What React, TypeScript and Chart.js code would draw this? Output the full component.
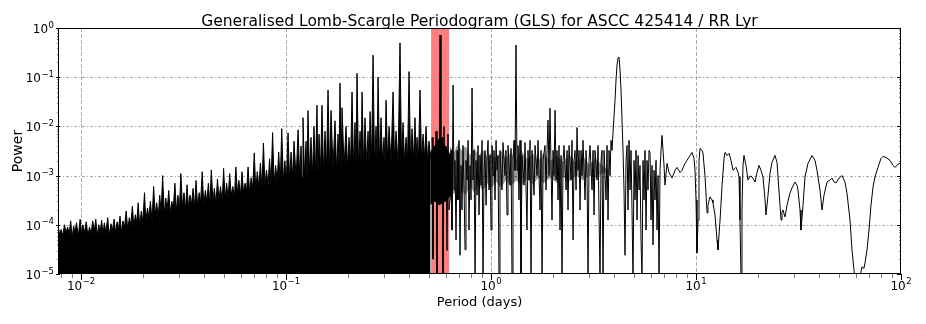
import React, { useEffect, useRef } from "react";
import { Chart, registerables } from "chart.js";

Chart.register(...registerables);

const TITLE = "Generalised Lomb-Scargle Periodogram (GLS) for ASCC 425414 / RR Lyr";
const X_LABEL = "Period (days)";
const Y_LABEL = "Power";
const X_MIN = 0.00772;
const X_MAX = 100;
const Y_MIN = 1e-5;
const Y_MAX = 1;
const X_TICKS = [0.01, 0.1, 1, 10, 100];
const X_TICK_EXP = ["\u22122", "\u22121", "0", "1", "2"];
const Y_TICKS = [1e-5, 1e-4, 1e-3, 1e-2, 1e-1, 1];
const Y_TICK_EXP = ["\u22125", "\u22124", "\u22123", "\u22122", "\u22121", "0"];
const BAND = [0.51, 0.624];

// short periods 0.0077 - 0.05 d (peak, trough alternating)
const shortPeriod = [
  0.0077, 0.00785, 0.008, 0.00815, 0.0083, 0.00845, 0.0086, 0.00875, 0.0089, 0.00905,
  0.0092, 0.00935, 0.0095, 0.0097, 0.0099, 0.01005, 0.0102, 0.0104, 0.0106, 0.0108,
  0.011, 0.0112, 0.0114, 0.0116, 0.0118, 0.012, 0.0122, 0.0124, 0.0126, 0.0128,
  0.013, 0.0132, 0.0135, 0.0137, 0.014, 0.0142, 0.0145, 0.0147, 0.015, 0.0152,
  0.0155, 0.0157, 0.016, 0.0163, 0.0166, 0.0169, 0.0172, 0.0175, 0.0178, 0.0181,
  0.0184, 0.0187, 0.019, 0.0193, 0.0197, 0.02, 0.0204, 0.0207, 0.0211, 0.0214,
  0.0218, 0.0222, 0.0226, 0.023, 0.0234, 0.0238, 0.0242, 0.0246, 0.025, 0.0255,
  0.0259, 0.0263, 0.0268, 0.0272, 0.0277, 0.0282, 0.0287, 0.0292, 0.0297, 0.0302,
  0.0307, 0.0312, 0.0318, 0.0323, 0.0329, 0.0334, 0.034, 0.0346, 0.0352, 0.0358,
  0.0364, 0.037, 0.0377, 0.0383, 0.039, 0.0397, 0.0404, 0.0411, 0.0418, 0.0425,
  0.0432, 0.044, 0.0447, 0.0455, 0.0463, 0.0471, 0.0479, 0.0488, 0.0496, 0.0505,
];
const shortPower = [
  1.1e-4, 6.5e-5, 8e-5, 6e-5, 1.0e-4, 7e-5, 9e-5, 6.5e-5, 1.2e-4, 5.5e-5,
  9.5e-5, 7e-5, 1.1e-4, 6e-5, 1.3e-4, 6.5e-5, 1.0e-4, 7e-5, 1.15e-4, 6e-5,
  9e-5, 6.5e-5, 1.2e-4, 7.5e-5, 1.3e-4, 6e-5, 1.0e-4, 7e-5, 1.25e-4, 6.5e-5,
  1.1e-4, 7e-5, 1.4e-4, 6e-5, 1.05e-4, 7.5e-5, 1.3e-4, 7e-5, 1.15e-4, 8e-5,
  1.5e-4, 7e-5, 1.2e-4, 9e-5, 1.9e-4, 8e-5, 1.4e-4, 1e-4, 2.4e-4, 9e-5,
  1.6e-4, 1.1e-4, 2.8e-4, 1e-4, 1.9e-4, 1.1e-4, 4.5e-4, 1.2e-4, 2.2e-4, 1.4e-4,
  3e-4, 1.2e-4, 6e-4, 1.6e-4, 2.8e-4, 1.4e-4, 4e-4, 1.8e-4, 1e-3, 1.6e-4,
  3.5e-4, 2e-4, 5e-4, 1.7e-4, 3e-4, 2.2e-4, 7e-4, 1.9e-4, 4e-4, 2.1e-4,
  1.1e-3, 2.4e-4, 4.5e-4, 2e-4, 6.5e-4, 2.3e-4, 4e-4, 2.6e-4, 5.5e-4, 2.2e-4,
  8e-4, 2.5e-4, 4.5e-4, 2.8e-4, 1.2e-3, 2.4e-4, 5e-4, 2.9e-4, 7e-4, 2.6e-4,
  1.3e-3, 3e-4, 5.5e-4, 2.7e-4, 8.5e-4, 3.2e-4, 6e-4, 2.9e-4, 1.4e-3, 3.3e-4,
];

// 0.05 - 0.1 d
const lowPeriod = [
  0.0513, 0.0522, 0.0531, 0.054, 0.055, 0.056, 0.0569, 0.0579, 0.0589, 0.06,
  0.061, 0.062, 0.0631, 0.0642, 0.0653, 0.0664, 0.0676, 0.0688, 0.07, 0.0712,
  0.0724, 0.0737, 0.075, 0.0763, 0.0776, 0.0789, 0.0803, 0.0817, 0.0831, 0.0845,
  0.086, 0.0875, 0.089, 0.0905, 0.0921, 0.0937, 0.0953, 0.097, 0.0987, 0.1004,
];
const lowPower = [
  7e-4, 3.5e-4, 1.1e-3, 4e-4, 6e-4, 3.5e-4, 1.5e-3, 4.5e-4, 8e-4, 4e-4,
  1.2e-3, 4.5e-4, 7e-4, 5e-4, 1.5e-3, 4.5e-4, 9e-4, 5.5e-4, 2.9e-3, 5e-4,
  1.2e-3, 6e-4, 1.8e-3, 5.5e-4, 4.6e-3, 6.5e-4, 1.3e-3, 6e-4, 2.2e-3, 7e-4,
  7.5e-3, 6.5e-4, 1.6e-3, 7.5e-4, 3e-3, 7e-4, 9e-3, 8e-4, 2e-3, 8e-4,
];

// 0.1 - 0.51 d
const midPeriod = [
  0.1023, 0.104, 0.1058, 0.1076, 0.1094, 0.112, 0.1145, 0.1165, 0.1184, 0.1197,
  0.121, 0.123, 0.1252, 0.1266, 0.128, 0.13, 0.1324, 0.1346, 0.1369, 0.1392,
  0.1416, 0.1432, 0.1449, 0.1473, 0.1498, 0.1524, 0.155, 0.1576, 0.1603, 0.163,
  0.1658, 0.1695, 0.1734, 0.1764, 0.1794, 0.1814, 0.1834, 0.1855, 0.1876, 0.192,
  0.1962, 0.1996, 0.203, 0.2064, 0.2099, 0.2135, 0.2171, 0.2195, 0.222, 0.2258,
  0.2297, 0.2323, 0.2349, 0.2389, 0.2429, 0.247, 0.2513, 0.2541, 0.257, 0.2614,
  0.2658, 0.2703, 0.2749, 0.278, 0.2811, 0.2859, 0.2908, 0.2957, 0.3007, 0.304,
  0.3075, 0.3128, 0.3181, 0.3254, 0.3327, 0.3384, 0.3441, 0.352, 0.3598, 0.366,
  0.3722, 0.3785, 0.385, 0.3916, 0.3982, 0.405, 0.4118, 0.4188, 0.4259, 0.4307,
  0.4356, 0.443, 0.4505, 0.4582, 0.466, 0.474, 0.482, 0.49, 0.4985, 0.507,
];
const midPower = [
  7.4e-3, 8e-4, 3e-3, 9e-4, 5e-3, 8.5e-4, 8.5e-3, 1e-3, 4e-3, 9e-4,
  1.5e-2, 1e-3, 5e-3, 9e-4, 2.1e-2, 1.1e-3, 6e-3, 1e-3, 1e-2, 1.1e-3,
  2.7e-2, 1e-3, 7e-3, 1.2e-3, 2.7e-2, 1.1e-3, 8e-3, 1.3e-3, 5.5e-2, 1.2e-3,
  2.1e-2, 1.4e-3, 1.3e-2, 1.2e-3, 7e-3, 1.5e-3, 7.6e-2, 1.3e-3, 2.4e-2, 1.5e-3,
  1e-2, 1.4e-3, 6e-3, 1.6e-3, 5e-2, 1.4e-3, 1.2e-2, 1.7e-3, 1.2e-1, 1.5e-3,
  8e-3, 1.7e-3, 5e-2, 1.5e-3, 1.5e-2, 1.8e-3, 8e-3, 1.6e-3, 2e-2, 1.8e-3,
  2.8e-1, 1.6e-3, 1e-2, 1.9e-3, 1e-1, 1.7e-3, 1.5e-2, 1.9e-3, 6e-3, 1.7e-3,
  3.4e-2, 2e-3, 1e-2, 1.8e-3, 5e-2, 2e-3, 8e-3, 1.8e-3, 5e-1, 2e-3,
  1.2e-2, 1.9e-3, 6e-3, 2.1e-3, 1.3e-1, 1.9e-3, 9e-3, 2.1e-3, 1.5e-2, 2e-3,
  6e-3, 2.2e-3, 5.5e-2, 2e-3, 7e-3, 2.2e-3, 1e-2, 2e-3, 5e-3, 2.2e-3,
];

// inside the highlighted band 0.51 - 0.62 d
const bandPeriod = [0.5156, 0.521, 0.5273, 0.533, 0.5393, 0.545, 0.5515, 0.558, 0.564, 0.57, 0.5768, 0.583, 0.5899, 0.597, 0.6033, 0.61, 0.617, 0.624];
const bandPower = [6e-3, 2e-5, 4e-3, 3e-4, 8e-3, 8e-6, 5e-3, 4e-4, 7.2e-1, 5e-4, 6e-3, 6e-6, 1e-2, 3e-4, 4e-3, 3e-5, 7e-3, 2e-4];
const bandCorePeriod = [0.505, 0.53, 0.56, 0.6, 0.64];
const bandCoreTop = [3e-3, 4e-3, 6e-3, 4e-3, 2.5e-3];
const bandCoreFloor = [2.5e-4, 3e-4, 2.5e-4, 3e-4, 4e-4];

// 0.63 - 7 d
const longPeriod = [
  0.631, 0.638, 0.645, 0.653, 0.66, 0.667, 0.675, 0.683, 0.69, 0.698,
  0.706, 0.714, 0.722, 0.73, 0.739, 0.747, 0.755, 0.764, 0.773, 0.781,
  0.79, 0.799, 0.808, 0.817, 0.826, 0.836, 0.845, 0.855, 0.864, 0.874,
  0.884, 0.894, 0.904, 0.914, 0.925, 0.935, 0.946, 0.956, 0.967, 0.978,
  0.989, 1.0, 1.011, 1.023, 1.034, 1.046, 1.058, 1.07, 1.082, 1.094,
  1.106, 1.131, 1.144, 1.17, 1.183, 1.197, 1.21, 1.238, 1.252, 1.266,
  1.28, 1.295, 1.309, 1.324, 1.339, 1.354, 1.369, 1.385, 1.4, 1.416,
  1.449, 1.465, 1.498, 1.515, 1.533, 1.55, 1.567, 1.585, 1.621, 1.64,
  1.677, 1.696, 1.734, 1.754, 1.774, 1.794, 1.834, 1.855, 1.876, 1.897,
  1.919, 1.94, 1.962, 1.984, 2.007, 2.03, 2.053, 2.076, 2.099, 2.123,
  2.147, 2.171, 2.196, 2.22, 2.246, 2.271, 2.323, 2.349, 2.375, 2.402,
  2.457, 2.484, 2.513, 2.541, 2.57, 2.599, 2.628, 2.658, 2.688, 2.718,
  2.749, 2.78, 2.811, 2.875, 2.908, 2.941, 2.974, 3.007, 3.041, 3.11,
  3.146, 3.181, 3.217, 3.29, 3.327, 3.402, 3.441, 3.479, 3.519, 3.559,
  3.64, 3.681, 3.722, 3.764, 3.807, 3.85, 3.893, 3.937, 4.027, 4.072,
  4.118, 4.165, 4.212, 4.259, 4.307, 4.356, 4.405, 4.455, 4.505, 4.556,
  4.608, 4.66, 4.712, 4.766, 4.82, 4.874, 4.929, 4.985, 5.041, 5.098,
  5.156, 5.214, 5.273, 5.332, 5.392, 5.453, 5.515, 5.577, 5.64, 5.704,
  5.768, 5.833, 5.899, 5.966, 6.033, 6.101, 6.17, 6.24, 6.311, 6.382,
  6.454, 6.527, 6.601, 6.675, 6.751, 6.827, 6.904, 6.982, 7.061,
];
const longPower = [
  3.2e-4, 3.25e-3, 7.8e-5, 6.9e-2, 5.1e-4, 2.04e-3, 4.9e-5, 3.25e-3, 3.2e-4, 5.2e-3,
  2.4e-5, 1.61e-3, 2e-4, 4.1e-3, 5.1e-4, 3.1e-5, 2.04e-3, 8.1e-4, 5.2e-3, 7.8e-5,
  1.61e-3, 3.2e-4, 6e-2, 8.1e-4, 3.25e-3, 7.8e-6, 2.04e-3, 4e-4, 4.1e-3, 1.58e-4,
  2.57e-3, 6.4e-4, 5.2e-3, 7.8e-6, 1.28e-3, 3.25e-3, 2.5e-4, 2.04e-3, 5.2e-3, 5.1e-4,
  2.57e-3, 7.8e-5, 4.1e-3, 1e-3, 3.25e-3, 3.2e-4, 5.2e-3, 1.28e-3, 2.57e-3, 7.8e-6,
  3.25e-3, 5.1e-4, 4.7e-3, 1e-3, 3.25e-3, 1.58e-4, 4.1e-3, 6.4e-4, 3.57e-3, 7.8e-6,
  2.04e-3, 5.2e-3, 1.28e-3, 0.45, 1.28e-3, 4.1e-3, 3.2e-4, 5.2e-3, 7.8e-6, 2.57e-3,
  6.4e-4, 4.7e-3, 7.8e-5, 3.25e-3, 8.1e-4, 5.2e-3, 7.8e-6, 3.25e-3, 4e-4, 4.1e-3,
  1e-3, 5.2e-3, 2e-4, 3.25e-3, 7.8e-6, 2.04e-3, 4.1e-3, 5.1e-4, 3.25e-3, 1.34e-2,
  1e-3, 2.34e-2, 1.61e-3, 1.25e-4, 3.25e-3, 1e-3, 2.13e-2, 8.1e-4, 3.25e-3, 3.2e-4,
  4.1e-3, 7.8e-5, 2.57e-3, 7.8e-6, 2.04e-3, 4.1e-3, 5.1e-4, 3.25e-3, 2e-4, 4.1e-3,
  8.1e-4, 5.2e-3, 4.9e-5, 2.04e-3, 3.25e-3, 5.1e-4, 9.5e-3, 1.28e-3, 3.25e-3, 2e-4,
  3.25e-3, 1e-3, 5.2e-3, 3.2e-4, 3.25e-3, 1e-3, 7.8e-6, 2.04e-3, 4.1e-3, 5.1e-4,
  3.25e-3, 1.58e-4, 3.25e-3, 8.1e-4, 4.1e-3, 7.8e-6, 2.04e-3, 3.25e-3, 7.8e-6, 3.25e-3,
  3.2e-4, 4.1e-3, 1.25e-4, 3.25e-3, 1e-3, 5.2e-3, 3.25e-3, 7.55e-3, 3.41e-2, 8.7e-2,
  0.177, 0.246, 0.257, 0.14, 5.44e-2, 1.34e-2, 3.25e-3, 5.1e-4, 2.4e-5, 2.04e-3,
  4.1e-3, 2e-4, 5.2e-3, 5.1e-4, 3.25e-3, 2e-4, 7.8e-6, 2.04e-3, 3.2e-4, 3.25e-3,
  1.25e-4, 2.57e-3, 5.1e-4, 1.61e-3, 4.9e-5, 7.8e-6, 2.04e-3, 3.2e-4, 3.25e-3, 7.8e-5,
  2.04e-3, 5.1e-4, 3.25e-3, 2.96e-3, 1.25e-4, 1.61e-3, 3.9e-5, 1.28e-3, 3.2e-4, 2.04e-3,
  7.8e-5, 1e-3, 7.8e-6, 1.28e-3, 3.25e-3, 6.56e-3, 3.25e-3, 1.61e-3, 6.4e-4,
];
// dense overlapping mesh of the trace between 0.63 and 3.8 d (ragged upper and lower edge)
const meshPeriod = [0.63, 0.66, 0.69, 0.72, 0.75, 0.79, 0.83, 0.87, 0.91, 0.96, 1.0, 1.06, 1.12, 1.18, 1.25, 1.33, 1.4, 1.5, 1.6, 1.7, 1.8, 1.95, 2.1, 2.25, 2.4, 2.6, 2.8, 3.0, 3.25, 3.5, 3.8];
const meshTop = [4e-3, 3e-3, 4.5e-3, 3.2e-3, 4e-3, 2.6e-3, 3.6e-3, 2.5e-3, 3.4e-3, 2.4e-3, 3e-3, 2.2e-3, 3.2e-3, 2.3e-3, 3e-3, 2.1e-3, 3.3e-3, 2.2e-3, 2.8e-3, 2e-3, 2.9e-3, 2e-3, 2.6e-3, 1.9e-3, 2.7e-3, 1.8e-3, 2.5e-3, 1.7e-3, 2.2e-3, 1.6e-3, 1.2e-3];
const meshFloor = [3e-4, 4.5e-4, 3.5e-4, 5e-4, 4e-4, 6e-4, 4.5e-4, 6.5e-4, 5e-4, 7e-4, 5.5e-4, 7.5e-4, 5.5e-4, 8e-4, 6e-4, 8e-4, 6e-4, 8.5e-4, 6.5e-4, 9e-4, 7e-4, 9e-4, 7e-4, 9.5e-4, 7.5e-4, 1e-3, 8e-4, 1e-3, 9e-4, 1.1e-3, 1.2e-3];

// 7 - 100 d
const tailPeriod = [
  7.221, 7.386, 7.639, 7.901, 8.08, 8.356, 8.546, 8.839, 9.04, 9.35,
  9.562, 9.78, 9.89, 10.0, 10.11, 10.23, 10.34, 10.46, 10.7, 10.82,
  11.06, 11.32, 11.44, 11.7, 11.97, 12.1, 12.38, 12.66, 12.8, 12.95,
  13.1, 13.4, 13.7, 13.86, 14.17, 14.49, 14.82, 15.16, 15.5, 15.68,
  16.03, 16.21, 16.39, 16.58, 16.76, 16.95, 17.14, 17.53, 17.93, 18.34,
  18.76, 19.18, 19.4, 19.84, 20.29, 20.75, 21.22, 21.71, 21.95, 22.45,
  22.96, 23.48, 24.29, 24.84, 25.12, 25.69, 25.98, 26.27, 26.57, 26.87,
  27.18, 27.79, 28.74, 29.39, 30.4, 31.09, 31.44, 32.16, 32.52, 33.26,
  34.02, 35.18, 36.8, 38.06, 38.92, 40.26, 41.17, 42.11, 43.56, 45.05,
  46.07, 47.12, 48.19, 49.84, 51.55, 53.31, 54.52, 56.39, 57.67, 58.98,
  60.32, 61.69, 63.1, 64.53, 65.99, 66.75, 68.26, 69.81, 71.4, 73.02,
  74.68, 77.24, 79.89, 81.7, 84.51, 88.38, 91.41, 93.48, 96.69, 100,
];
const tailPower = [
  1.77e-3, 1.16e-3, 8.9e-4, 1.28e-3, 1.47e-3, 1.16e-3, 1.28e-3, 1.77e-3, 2.04e-3, 2.57e-3,
  2.96e-3, 2.24e-3, 1.28e-3, 3.2e-4, 2.7e-5, 1.25e-4, 2.04e-3, 3.57e-3, 3.25e-3, 2.82e-3,
  1e-3, 1.75e-4, 2.5e-4, 3.7e-4, 3.2e-4, 2.8e-4, 1.58e-4, 4.9e-5, 3.1e-5, 6.2e-5,
  1.25e-4, 6.4e-4, 2.24e-3, 2.96e-3, 2.57e-3, 2.82e-3, 2.04e-3, 1.28e-3, 1.4e-3, 1.47e-3,
  1.16e-3, 9.4e-4, 1.25e-4, 7.8e-6, 2e-4, 1.61e-3, 2.57e-3, 1.61e-3, 8.1e-4, 9.8e-4,
  9.4e-4, 8.1e-4, 7.4e-4, 1.16e-3, 1.61e-3, 1.28e-3, 9.4e-4, 3.2e-4, 1.58e-4, 4e-4,
  1.11e-3, 1.85e-3, 2.57e-3, 1.85e-3, 9.4e-4, 2.5e-4, 1.25e-4, 1.8e-4, 2e-4, 1.67e-4,
  1.45e-4, 2.5e-4, 4.4e-4, 5.6e-4, 7.4e-4, 6.4e-4, 5.1e-4, 2e-4, 7.8e-5, 2.5e-4,
  9.4e-4, 1.77e-3, 2.57e-3, 2.04e-3, 1.28e-3, 5.1e-4, 2e-4, 4e-4, 7.4e-4, 8.1e-4,
  8.9e-4, 7.4e-4, 7.1e-4, 8.9e-4, 1e-3, 7.4e-4, 4.4e-4, 1.25e-4, 3.1e-5, 1.2e-5,
  6e-6, 7e-6, 9e-6, 1.4e-5, 1.3e-5, 1.67e-5, 3.1e-5, 7.8e-5, 2.5e-4, 5.9e-4,
  9.4e-4, 1.47e-3, 2.24e-3, 2.46e-3, 2.34e-3, 2.04e-3, 1.61e-3, 1.47e-3, 1.69e-3, 1.85e-3,
];

const FONT = '"DejaVu Sans", sans-serif';

function toPoints(px: number[], py: number[]) {
  return px.map((x, i) => ({ x, y: py[i] }));
}

function drawPow(ctx: CanvasRenderingContext2D, exp: string, x: number, baseline: number, align: "center" | "right") {
  const base = `12px ${FONT}`;
  const sup = `8.5px ${FONT}`;
  ctx.font = base;
  const w1 = ctx.measureText("10").width;
  ctx.font = sup;
  const w2 = ctx.measureText(exp).width;
  const total = w1 + 0.5 + w2;
  const left = align === "center" ? x - total / 2 : x - total;
  ctx.textAlign = "left";
  ctx.textBaseline = "alphabetic";
  ctx.font = base;
  ctx.fillText("10", left, baseline);
  ctx.font = sup;
  ctx.fillText(exp, left + w1 + 0.5, baseline - 5.5);
}

const decoration = {
  id: "decoration",
  beforeDatasetsDraw(chart: any) {
    const { ctx, chartArea: a } = chart;
    const x = chart.scales.x;
    const y = chart.scales.y;
    ctx.save();
    const b0 = x.getPixelForValue(BAND[0]);
    const b1 = x.getPixelForValue(BAND[1]);
    ctx.fillStyle = "rgba(255,0,0,0.5)";
    ctx.fillRect(b0, a.top, b1 - b0, a.bottom - a.top);
    ctx.strokeStyle = "#a8a8a8";
    ctx.lineWidth = 1;
    ctx.setLineDash([4, 2]);
    X_TICKS.forEach((v) => {
      if (v <= X_MIN || v >= X_MAX) return;
      const px = Math.round(x.getPixelForValue(v)) + 0.5;
      ctx.beginPath();
      ctx.moveTo(px, a.top);
      ctx.lineTo(px, a.bottom);
      ctx.stroke();
    });
    ctx.setLineDash([3, 2, 1, 2]);
    Y_TICKS.forEach((v) => {
      if (v <= Y_MIN || v >= Y_MAX) return;
      const py = Math.round(y.getPixelForValue(v)) + 0.5;
      ctx.beginPath();
      ctx.moveTo(a.left, py);
      ctx.lineTo(a.right, py);
      ctx.stroke();
    });
    ctx.restore();
  },
  afterDatasetsDraw(chart: any) {
    const { ctx, chartArea: a } = chart;
    const x = chart.scales.x;
    const y = chart.scales.y;
    ctx.save();
    ctx.setLineDash([]);
    ctx.lineWidth = 1;
    for (let d = -3; d <= 2; d++) {
      for (let m = 1; m <= 9; m++) {
        const v = m * Math.pow(10, d);
        if (v < X_MIN || v > X_MAX) continue;
        const px = Math.round(x.getPixelForValue(v)) + 0.5;
        const len = m === 1 ? 6 : 4;
        ctx.strokeStyle = m === 1 ? "#000" : "#777";
        ctx.beginPath();
        ctx.moveTo(px, a.bottom);
        ctx.lineTo(px, a.bottom + len);
        ctx.stroke();
      }
    }
    for (let d = -5; d <= 0; d++) {
      for (let m = 1; m <= 9; m++) {
        const v = m * Math.pow(10, d);
        if (v < Y_MIN || v > Y_MAX) continue;
        const py = Math.round(y.getPixelForValue(v)) + 0.5;
        const len = m === 1 ? 4 : 2;
        ctx.strokeStyle = m === 1 ? "#000" : "#777";
        ctx.beginPath();
        ctx.moveTo(a.left - len / 2, py);
        ctx.lineTo(a.left + len / 2, py);
        ctx.moveTo(a.right - len, py);
        ctx.lineTo(a.right, py);
        ctx.stroke();
      }
    }
    ctx.strokeStyle = "#000";
    ctx.strokeRect(Math.round(a.left) + 0.5, Math.round(a.top) + 0.5, Math.round(a.right - a.left) - 1, Math.round(a.bottom - a.top) - 1);
    ctx.restore();
  },
  afterDraw(chart: any) {
    const { ctx, chartArea: a } = chart;
    const x = chart.scales.x;
    const y = chart.scales.y;
    ctx.save();
    ctx.fillStyle = "#000";
    X_TICKS.forEach((v, i) => {
      drawPow(ctx, X_TICK_EXP[i], x.getPixelForValue(v), a.bottom + 15.5, "center");
    });
    Y_TICKS.forEach((v, i) => {
      drawPow(ctx, Y_TICK_EXP[i], a.left - 4, y.getPixelForValue(v) + 5, "right");
    });
    ctx.textAlign = "center";
    ctx.textBaseline = "alphabetic";
    ctx.font = `15.5px ${FONT}`;
    ctx.fillText(TITLE, (a.left + a.right) / 2, 26);
    ctx.font = `13px ${FONT}`;
    ctx.fillText(X_LABEL, (a.left + a.right) / 2, 306);
    ctx.save();
    ctx.translate(22, (a.top + a.bottom) / 2);
    ctx.rotate(-Math.PI / 2);
    ctx.font = `14px ${FONT}`;
    ctx.fillText(Y_LABEL, 0, 0);
    ctx.restore();
    ctx.restore();
  },
};

export default function App() {
  const ref = useRef<HTMLCanvasElement | null>(null);
  useEffect(() => {
    const canvas = ref.current;
    if (!canvas) return;
    const dense = [
      ...toPoints(shortPeriod, shortPower),
      ...toPoints(lowPeriod, lowPower),
      ...toPoints(midPeriod, midPower),
    ];
    const sparse = [
      ...toPoints(bandPeriod, bandPower),
      ...toPoints(longPeriod, longPower),
      ...toPoints(tailPeriod, tailPower),
    ];
    const hidden = { borderWidth: 0, borderColor: "rgba(0,0,0,0)", pointRadius: 0, fill: false };
    const chart = new Chart(canvas, {
      type: "line",
      data: {
        datasets: [
          { label: "mesh floor", data: toPoints(meshPeriod, meshFloor), ...hidden },
          {
            label: "mesh",
            data: toPoints(meshPeriod, meshTop),
            borderWidth: 0,
            borderColor: "rgba(0,0,0,0)",
            backgroundColor: "rgba(0,0,0,0.4)",
            pointRadius: 0,
            fill: "-1",
          },
          { label: "band floor", data: toPoints(bandCorePeriod, bandCoreFloor), ...hidden },
          {
            label: "band core",
            data: toPoints(bandCorePeriod, bandCoreTop),
            borderWidth: 0,
            borderColor: "rgba(0,0,0,0)",
            backgroundColor: "#000",
            pointRadius: 0,
            fill: "-1",
          },
          {
            label: "GLS dense",
            data: dense,
            borderColor: "#000",
            backgroundColor: "#000",
            borderWidth: 1,
            pointRadius: 0,
            fill: "start",
            tension: 0,
          },
          {
            label: "GLS",
            data: sparse,
            borderColor: "#000",
            borderWidth: 1,
            pointRadius: 0,
            fill: false,
            tension: 0,
          },
        ],
      },
      options: {
        animation: false,
        responsive: false,
        devicePixelRatio: 1,
        layout: { padding: { left: 0, right: 25, top: 28, bottom: 0 } },
        plugins: {
          legend: { display: false },
          tooltip: { enabled: false },
          title: { display: false },
        },
        scales: {
          x: {
            type: "logarithmic",
            min: X_MIN,
            max: X_MAX,
            grid: { display: false },
            border: { display: false },
            ticks: { display: false },
            afterFit: (s: any) => {
              s.height = 50;
            },
          },
          y: {
            type: "logarithmic",
            min: Y_MIN,
            max: Y_MAX,
            grid: { display: false },
            border: { display: false },
            ticks: { display: false },
            afterFit: (s: any) => {
              s.width = 58;
            },
          },
        },
      },
      plugins: [decoration],
    } as any);
    return () => chart.destroy();
  }, []);
  return (
    <canvas
      ref={ref}
      width={926}
      height={324}
      style={{ position: "absolute", left: 0, top: 0, width: 926, height: 324 }}
    />
  );
}
